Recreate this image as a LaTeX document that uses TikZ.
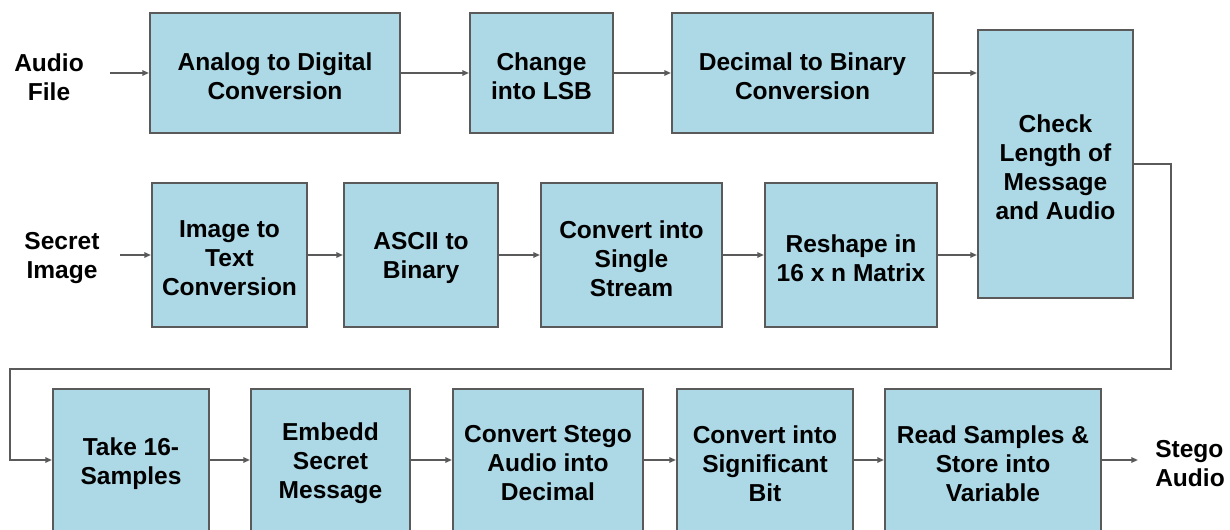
\documentclass[tikz,border=0pt]{standalone}
\usepackage{fontspec}
\setmainfont{Liberation Sans}
\usetikzlibrary{arrows.meta}
\definecolor{boxfill}{HTML}{ADD8E6}
\definecolor{edge}{HTML}{5A5A5A}
\tikzset{
  txt/.style={font=\bfseries\fontsize{18.4}{21.75}\selectfont, align=center, inner sep=0pt, text=black},
  blk/.style={draw=edge, fill=boxfill, line width=1.5pt, inner sep=0pt},
  % box caption, set a little below the centre of its box
  cap/.style={label={[txt, yshift=-2.6pt]center:{#1}}},
  conn/.style={draw=edge, line width=1.4pt, -{Triangle[length=5pt,width=4pt]}}
}
\begin{document}
\begin{tikzpicture}[x=0.75pt,y=-0.75pt]
\useasboundingbox (0,0) rectangle (1230,530);
\clip (0,0) rectangle (1230,530);
\fill[white] (0,0) rectangle (1230,530);

% input / output labels
\node[txt] (audio) at (49,77) {Audio\\File};
\node[txt] (secret) at (62,258) {Secret\\Image};
\node[txt, anchor=west, align=left] (stego) at (1155,464) {Stego\\Audio};
\coordinate (ain) at (110,73);
\coordinate (sin) at (120,255);
\coordinate (sout) at (1138,460);

% first row: audio path
\node[blk, minimum width=187.5pt, minimum height=90pt, cap={Analog to Digital\\Conversion}] (A) at (275,73) {};
\node[blk, minimum width=107.25pt, minimum height=90pt, cap={Change\\into LSB}] (B) at (541.5,73) {};
\node[blk, minimum width=195.75pt, minimum height=90pt, cap={Decimal to Binary\\Conversion}] (C) at (802.5,73) {};
\node[blk, minimum width=116.25pt, minimum height=201pt, cap={Check\\Length of\\Message\\and Audio}] (D) at (1055.5,164) {};

% second row: image path
\node[blk, minimum width=116.25pt, minimum height=108pt, cap={Image to\\Text\\Conversion}] (E) at (229.5,255) {};
\node[blk, minimum width=115.5pt, minimum height=108pt, cap={ASCII to\\Binary}] (F) at (421,255) {};
\node[blk, minimum width=135.75pt, minimum height=108pt, cap={Convert into\\Single\\Stream}] (G) at (631.5,255) {};
\node[blk, minimum width=129pt, minimum height=108pt, cap={Reshape in\\16 x n Matrix}] (H) at (851,255) {};

% third row: embedding
\node[blk, minimum width=117pt, minimum height=106.5pt, cap={Take 16-\\Samples}] (I) at (131,460) {};
\node[blk, minimum width=119.25pt, minimum height=106.5pt, cap={Embedd\\Secret\\Message}] (J) at (330.5,460) {};
\node[blk, minimum width=142.5pt, minimum height=106.5pt, cap={Convert Stego\\Audio into\\Decimal}] (K) at (548,460) {};
\node[blk, minimum width=132pt, minimum height=106.5pt, cap={Convert into\\Significant\\Bit}] (L) at (765,460) {};
\node[blk, minimum width=162pt, minimum height=106.5pt, cap={Read Samples \&\\Store into\\Variable}] (M) at (993,460) {};

% connectors
\draw[conn] (ain) -- (A.west);
\draw[conn] (A) -- (B);
\draw[conn] (B) -- (C);
\draw[conn] (C.east) -- (C.east -| D.west);
\draw[conn] (sin) -- (E.west);
\draw[conn] (E) -- (F);
\draw[conn] (F) -- (G);
\draw[conn] (G) -- (H);
\draw[conn] (H.east) -- (H.east -| D.west);
\coordinate (r1) at (1171,369);
\coordinate (l1) at (10,369);
\draw[conn] (D.east) -| (r1) -- (l1) |- (I.west);
\draw[conn] (I) -- (J);
\draw[conn] (J) -- (K);
\draw[conn] (K) -- (L);
\draw[conn] (L) -- (M);
\draw[conn] (M.east) -- (sout);
\end{tikzpicture}
\end{document}
